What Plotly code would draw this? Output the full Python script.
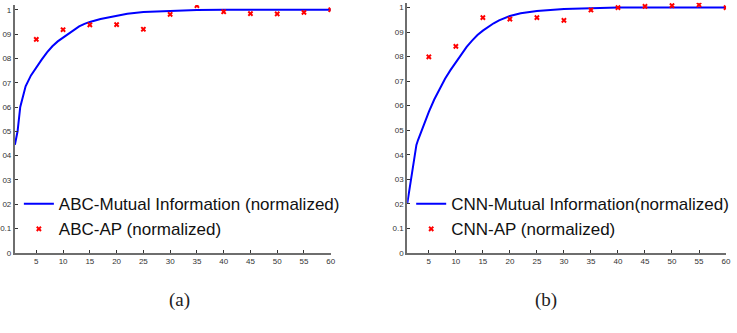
import plotly.graph_objects as go

# ---- data ----
x_ap = [5, 10, 15, 20, 25, 30, 35, 40, 45, 50, 55, 60]

abc_mi_x = [1, 1.5, 2, 3, 4, 5, 6, 7, 8, 9, 10, 11, 12, 13, 14, 15, 17, 20, 22, 25, 30, 35, 40, 45, 50, 55, 60]
abc_mi_y = [0.445, 0.50, 0.60, 0.685, 0.73, 0.765, 0.795, 0.825, 0.85, 0.87, 0.885, 0.90, 0.915, 0.932,
            0.942, 0.950, 0.962, 0.977, 0.984, 0.991, 0.996, 0.999, 1.0, 1.0, 1.0, 1.0, 1.0]
abc_ap = [0.878, 0.918, 0.938, 0.939, 0.920, 0.981, 1.017, 0.992, 0.984, 0.983, 0.989, 1.0]

cnn_mi_x = [1, 2, 2.7, 3, 4, 5, 6, 7, 8, 9, 10, 11, 12, 13, 14, 15, 16, 17, 18, 19, 20, 22, 25, 30, 35, 40, 45, 50, 55, 60]
cnn_mi_y = [0.2, 0.35, 0.44, 0.46, 0.52, 0.575, 0.625, 0.67, 0.71, 0.745, 0.778, 0.81, 0.84, 0.865, 0.888,
            0.906, 0.922, 0.936, 0.948, 0.958, 0.966, 0.977, 0.986, 0.994, 0.998, 1.0, 1.0, 1.0, 1.0, 1.0]
cnn_ap = [0.799, 0.842, 0.959, 0.953, 0.959, 0.948, 0.990, 1.0, 1.005, 1.008, 1.011, 1.0]

x_ticks = [5, 10, 15, 20, 25, 30, 35, 40, 45, 50, 55, 60]
y_tickvals = [0, 0.1, 0.2, 0.3, 0.4, 0.5, 0.6, 0.7, 0.8, 0.9, 1.0]
y_ticktext = ["0", "0.1", "02", "03", "04", "05", "06", "07", "08", "09", "1"]

fig = go.Figure()

fig.add_trace(go.Scatter(x=abc_mi_x, y=abc_mi_y, mode="lines", name="ABC-Mutual Information (normalized)",
                         line=dict(color="#0000ff", width=2), xaxis="x", yaxis="y", legend="legend"))
fig.add_trace(go.Scatter(x=x_ap, y=abc_ap, mode="markers", name="ABC-AP (normalized)",
                         marker=dict(symbol="x", size=5, color="#ff0000"), xaxis="x", yaxis="y", legend="legend"))
fig.add_trace(go.Scatter(x=cnn_mi_x, y=cnn_mi_y, mode="lines", name="CNN-Mutual Information(normalized)",
                         line=dict(color="#0000ff", width=2), xaxis="x2", yaxis="y2", legend="legend2"))
fig.add_trace(go.Scatter(x=x_ap, y=cnn_ap, mode="markers", name="CNN-AP (normalized)",
                         marker=dict(symbol="x", size=5, color="#ff0000"), xaxis="x2", yaxis="y2", legend="legend2"))

W, H = 737, 333
axis_common = dict(showline=True, linecolor="#6e6e6e", linewidth=2, ticks="inside", ticklen=3,
                   tickcolor="#333", showgrid=False, zeroline=False,
                   tickfont=dict(family="Liberation Sans", size=8, color="#333"))
ybot = (H - 256.7) / H

fig.update_layout(
    width=W, height=H, margin=dict(l=0, r=0, t=0, b=0),
    plot_bgcolor="white", paper_bgcolor="white",
    xaxis=dict(domain=[15 / W, 333 / W], range=[1, 60], tickvals=x_ticks, anchor="y", **axis_common),
    yaxis=dict(domain=[ybot, 1 - 5 / H], range=[0, 1.02], tickvals=y_tickvals, ticktext=y_ticktext,
               anchor="x", **axis_common),
    xaxis2=dict(domain=[410 / W, 731 / W], range=[1, 60], tickvals=x_ticks, anchor="y2", **axis_common),
    yaxis2=dict(domain=[ybot, 1 - 2.7 / H], range=[0, 1.02], tickvals=y_tickvals, ticktext=y_ticktext,
                anchor="x2", **axis_common),
    legend=dict(x=19 / W, y=1 - 189 / H, xanchor="left", yanchor="top", bgcolor="rgba(0,0,0,0)",
                font=dict(family="Liberation Sans", size=17, color="#111"), tracegroupgap=0),
    legend2=dict(x=414 / W, y=1 - 189 / H, xanchor="left", yanchor="top", bgcolor="rgba(0,0,0,0)",
                 font=dict(family="Liberation Sans", size=17, color="#111"), tracegroupgap=0),
    annotations=[
        dict(text="(a)", x=168 / W, y=1 - 318 / H, xref="paper", yref="paper", showarrow=False,
             font=dict(family="Liberation Serif", size=19, color="#222")),
        dict(text="(b)", x=563 / W, y=1 - 318 / H, xref="paper", yref="paper", showarrow=False,
             font=dict(family="Liberation Serif", size=19, color="#222")),
    ],
)

fig.write_html("out.html")
